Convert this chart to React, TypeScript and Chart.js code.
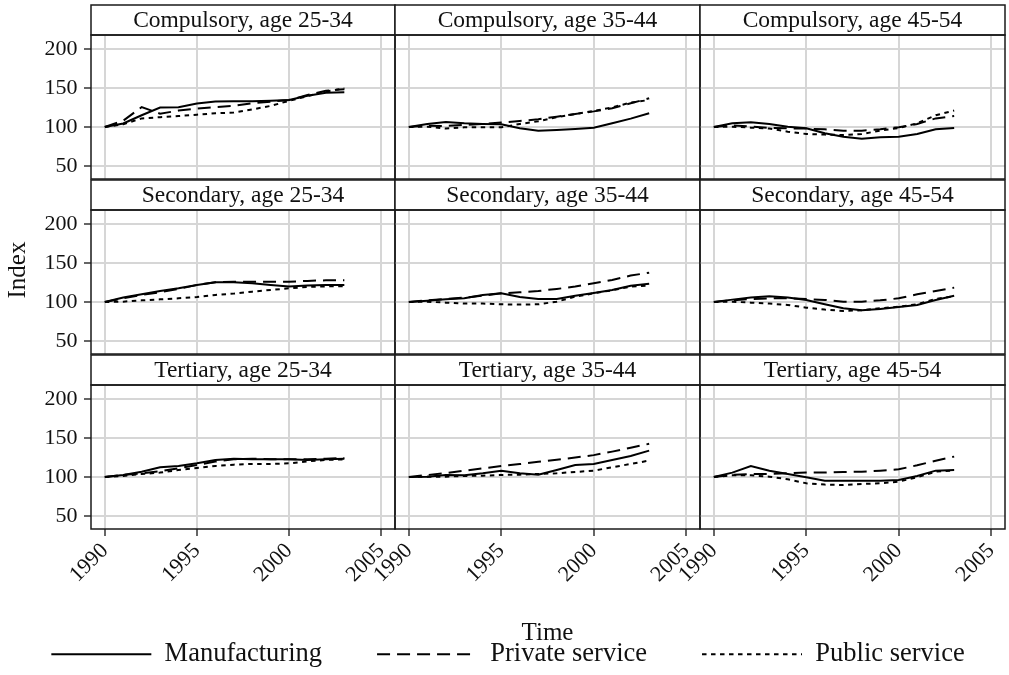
import React, { useEffect, useRef } from 'react';
import { Chart, registerables } from 'chart.js';

Chart.register(...registerables);

// ---- data -------------------------------------------------------------
const YEARS = [1990, 1991, 1992, 1993, 1994, 1995, 1996, 1997, 1998, 1999, 2000, 2001, 2002, 2003];
const SECTORS = ['Manufacturing', 'Private service', 'Public service'];
const EDUCATION_LEVELS = ['Compulsory', 'Secondary', 'Tertiary'];
const AGE_GROUPS = ['25-34', '35-44', '45-54'];
const X_TICKS = [1990, 1995, 2000, 2005];
const Y_TICKS = [50, 100, 150, 200];

// Compulsory education
const compulsory2534Manufacturing = [100, 104.5, 115, 125, 125.2, 130, 132.5, 133, 133, 133.5, 134.5, 140, 144, 144.5];
const compulsory2534Private = [100, 108, 125.5, 117, 121, 123.5, 125.5, 127, 130.5, 132.5, 134.5, 141, 146.5, 148.5];
const compulsory2534Public = [100, 103.5, 111, 112.5, 114, 115.8, 117.5, 118.5, 122.5, 127, 133.5, 139.5, 145.5, 149.5];

const compulsory3544Manufacturing = [100, 103.8, 106.4, 104.7, 103.8, 103.4, 98.3, 95.3, 96.2, 97.4, 99.1, 104.7, 110.7, 117.5];
const compulsory3544Private = [100, 101.7, 101.3, 102.6, 103.8, 105.6, 107.7, 109.8, 113.2, 116.7, 120, 124, 130.3, 136.8];
const compulsory3544Public = [100, 100.4, 97.9, 99.6, 99.6, 99.6, 103.8, 107.3, 112.4, 116.7, 120.5, 125.2, 131.2, 134.6];

const compulsory4554Manufacturing = [100, 104.7, 106, 103.8, 100.4, 98.3, 91.9, 87.6, 85, 86.8, 87.6, 91, 97, 98.7];
const compulsory4554Private = [100, 102.1, 100.4, 98.7, 98.3, 97.9, 97, 95.3, 95.3, 97, 99.6, 103.8, 111, 114.1];
const compulsory4554Public = [100, 100.4, 99.1, 97.9, 94, 91, 90.2, 89.7, 91, 95.3, 98.7, 104.7, 115, 121];

// Secondary education
const secondary2534Manufacturing = [100, 105.6, 109.8, 114.1, 117.5, 121.8, 125.2, 125.2, 124, 121.8, 119.7, 121, 121.8, 121.8];
const secondary2534Private = [100, 104.7, 109, 112.4, 116.7, 121.8, 125.2, 126, 126, 126, 126, 127, 127.8, 127.8];
const secondary2534Public = [100, 100.4, 102.1, 103.4, 104.7, 106.4, 109, 110.7, 113.2, 115.4, 117.5, 119.2, 120, 120];

const secondary3544Manufacturing = [100, 101.7, 103.4, 104.7, 109, 111.1, 106.4, 103.8, 103.8, 108.1, 111.5, 115.4, 120.9, 123.5];
const secondary3544Private = [100, 102.1, 103.8, 105.6, 108.1, 111.1, 112.4, 114.1, 116.7, 119.7, 123.9, 128.2, 133.8, 137.6];
const secondary3544Public = [100, 100.4, 99.1, 97.9, 97.9, 97, 96.6, 97, 100.4, 106.8, 111.1, 115, 119.7, 121];

const secondary4554Manufacturing = [100, 103, 105.6, 107.3, 105.6, 102.6, 97, 91.9, 89.3, 91, 93.6, 96.2, 102.6, 108.1];
const secondary4554Private = [100, 102.1, 103.8, 104.7, 104.7, 103.8, 102.6, 100.4, 100.4, 102.1, 104.7, 109.8, 114.1, 118.4];
const secondary4554Public = [100, 100.4, 99.1, 97.9, 96.2, 92.7, 90.2, 88.5, 89.3, 91.9, 94, 97, 103.8, 107.3];

// Tertiary education
const tertiary2534Manufacturing = [100, 102.6, 106.8, 112.4, 114.1, 117.5, 121.8, 123.5, 122.6, 122.6, 122.6, 121.8, 122.6, 123.5];
const tertiary2534Private = [100, 102.6, 104.7, 107.3, 111.1, 115.4, 119.7, 122.6, 123.5, 122.6, 122.6, 122.6, 123.5, 124.4];
const tertiary2534Public = [100, 101.3, 103.8, 105.6, 109, 111.5, 114.1, 115.8, 116.7, 116.7, 117.5, 120, 121.8, 122.6];

const tertiary3544Manufacturing = [100, 100.4, 102.6, 102.1, 104.7, 108.1, 104.7, 103, 109, 115.4, 116.7, 121.8, 126.9, 133.8];
const tertiary3544Private = [100, 102.5, 105, 108, 111, 114, 116.5, 119.5, 122, 125, 128, 132.5, 137.5, 142.5];
const tertiary3544Public = [100, 100.4, 100.4, 101.3, 101.7, 102.6, 103, 103.8, 104.7, 106.4, 108.1, 112.4, 116.7, 121];

const tertiary4554Manufacturing = [100, 105.6, 114.1, 108.1, 103.8, 99.6, 95.3, 95.3, 95.3, 95.3, 96.2, 101.3, 108.1, 109];
const tertiary4554Private = [100, 102.6, 103.8, 103.8, 104.7, 105.6, 105.6, 106.4, 106.8, 108.1, 109.8, 115, 120.9, 126.1];
const tertiary4554Public = [100, 102.1, 102.1, 100.4, 97, 91.9, 90.2, 89.7, 91, 91.9, 94, 99.6, 106.8, 108.1];

// rows = education level, columns = age group, each cell = [manufacturing, private, public]
const PANEL_SERIES = [
  [
    [compulsory2534Manufacturing, compulsory2534Private, compulsory2534Public],
    [compulsory3544Manufacturing, compulsory3544Private, compulsory3544Public],
    [compulsory4554Manufacturing, compulsory4554Private, compulsory4554Public],
  ],
  [
    [secondary2534Manufacturing, secondary2534Private, secondary2534Public],
    [secondary3544Manufacturing, secondary3544Private, secondary3544Public],
    [secondary4554Manufacturing, secondary4554Private, secondary4554Public],
  ],
  [
    [tertiary2534Manufacturing, tertiary2534Private, tertiary2534Public],
    [tertiary3544Manufacturing, tertiary3544Private, tertiary3544Public],
    [tertiary4554Manufacturing, tertiary4554Private, tertiary4554Public],
  ],
];

// ---- layout & style ---------------------------------------------------
const FONT = '"Liberation Serif", "Times New Roman", Times, serif';
const INK = '#111111';
const GRID = '#d6d6d6';
const FRAME = '#1a1a1a';
const LINE_DASHES = [[], [13, 7], [4.5, 4.5]];

const X_MIN = 1989.25;
const X_MAX = 2005.75;
const Y_MIN = 33.3;
const Y_MAX = 217.9;

const COL_EDGES = [91, 395, 700, 1005];
const ROW_TOPS = [35, 210, 385];
const PANEL_H = 144;
const STRIP_H = 30;

type Geometry = {
  left: number; top: number; w: number; h: number;
  padL: number; padR: number; padT: number; padB: number;
  xAxisH: number; yAxisW: number;
};

function panelGeometry(row: number, col: number): Geometry {
  const plotL = COL_EDGES[col];
  const plotR = COL_EDGES[col + 1];
  const plotT = ROW_TOPS[row];
  const plotB = plotT + PANEL_H;
  const isLeft = col === 0;
  const isBottom = row === 2;
  const padL = isLeft ? 0 : isBottom ? 48 : 4;
  const left = isLeft ? 0 : plotL - padL;
  const padR = isBottom ? 24 : 4;
  const padT = STRIP_H + 2;
  const top = plotT - padT;
  const xAxisH = isBottom ? (col === 1 ? 124 : 80) : 0;
  const padB = isBottom ? 2 : 24;
  const bottom = plotB + xAxisH + padB;
  return {
    left, top, w: plotR + padR - left, h: bottom - top,
    padL, padR, padT, padB, xAxisH, yAxisW: isLeft ? plotL : 0,
  };
}

// strip header, panel frame and the shared y title
const panelFrame = {
  id: 'panelFrame',
  afterDraw(chart: any, _args: any, opts: any) {
    const { ctx, chartArea: a } = chart;
    const w = a.right - a.left;
    ctx.save();
    ctx.fillStyle = '#ffffff';
    ctx.fillRect(a.left, a.top - STRIP_H, w, STRIP_H);
    ctx.strokeStyle = FRAME;
    ctx.lineWidth = 1.5;
    ctx.strokeRect(a.left, a.top - STRIP_H, w, STRIP_H);
    ctx.strokeRect(a.left, a.top, w, a.bottom - a.top);
    ctx.fillStyle = INK;
    ctx.font = `23.5px ${FONT}`;
    ctx.textAlign = 'center';
    ctx.textBaseline = 'middle';
    ctx.fillText(opts.strip, a.left + w / 2, a.top - STRIP_H / 2 + 1);
    if (opts.sideTitle) {
      const t = opts.sideTitle;
      ctx.translate(t.x, t.y);
      ctx.rotate(-Math.PI / 2);
      ctx.font = `25px ${FONT}`;
      ctx.fillText(t.text, 0, 0);
    }
    ctx.restore();
  },
};

function panelConfig(row: number, col: number, g: Geometry): any {
  const isLeft = col === 0;
  const isBottom = row === 2;
  const series = PANEL_SERIES[row][col];
  const strip = `${EDUCATION_LEVELS[row]}, age ${AGE_GROUPS[col]}`;
  const sideTitle = isLeft && row === 1
    ? { text: 'Index', x: 18 - g.left, y: 270 - g.top }
    : null;

  return {
    type: 'line',
    data: {
      datasets: SECTORS.map((name, k) => ({
        label: name,
        data: YEARS.map((yr, j) => ({ x: yr, y: series[k][j] })),
        borderColor: '#000000',
        borderWidth: 2,
        borderDash: LINE_DASHES[k],
        pointRadius: 0,
        tension: 0,
        fill: false,
      })),
    },
    options: {
      responsive: false,
      animation: false,
      events: [],
      layout: { padding: { left: g.padL, right: g.padR, top: g.padT, bottom: g.padB } },
      plugins: {
        legend: { display: false },
        tooltip: { enabled: false },
        panelFrame: { strip, sideTitle },
      },
      scales: {
        x: {
          type: 'linear',
          position: 'bottom',
          min: X_MIN,
          max: X_MAX,
          afterBuildTicks: (s: any) => { s.ticks = X_TICKS.map((v) => ({ value: v })); },
          afterFit: (s: any) => { s.height = g.xAxisH; },
          border: { display: false },
          grid: {
            color: GRID,
            lineWidth: 2,
            drawTicks: isBottom,
            tickLength: 7,
            tickColor: '#333333',
            tickWidth: 1.5,
          },
          ticks: {
            display: isBottom,
            autoSkip: false,
            minRotation: 45,
            maxRotation: 45,
            padding: 2,
            color: INK,
            font: { family: FONT, size: 22 },
            callback: (v: any) => String(v),
          },
          title: {
            display: isBottom && col === 1,
            text: 'Time',
            color: INK,
            font: { family: FONT, size: 25 },
            padding: { top: 0, bottom: 5 },
          },
        },
        y: {
          type: 'linear',
          position: 'left',
          min: Y_MIN,
          max: Y_MAX,
          afterBuildTicks: (s: any) => { s.ticks = Y_TICKS.map((v) => ({ value: v })); },
          afterFit: (s: any) => { s.width = g.yAxisW; },
          border: { display: false },
          grid: {
            color: GRID,
            lineWidth: 2,
            drawTicks: isLeft,
            tickLength: 7,
            tickColor: '#333333',
            tickWidth: 1.5,
          },
          ticks: {
            display: isLeft,
            padding: 6.5,
            color: INK,
            font: { family: FONT, size: 22 },
            callback: (v: any) => String(v),
          },
        },
      },
    },
    plugins: [panelFrame],
  };
}

// legend strip beneath the grid (wide canvas, centred on the panel grid)
const LEGEND_BOX = { left: -192, top: 586, w: 1400, h: 300 };

function legendConfig(): any {
  const baseLabels = (Chart.defaults as any).plugins.legend.labels.generateLabels;
  return {
    type: 'line',
    data: {
      datasets: SECTORS.map((name, k) => ({
        label: name,
        data: [],
        borderColor: '#000000',
        backgroundColor: '#000000',
        borderWidth: 2,
        borderDash: LINE_DASHES[k],
      })),
    },
    options: {
      responsive: false,
      animation: false,
      events: [],
      scales: { x: { display: false }, y: { display: false } },
      plugins: {
        tooltip: { enabled: false },
        legend: {
          display: true,
          position: 'top',
          labels: {
            usePointStyle: true,
            pointStyle: 'line',
            pointStyleWidth: 100,
            padding: 55,
            color: INK,
            font: { family: FONT, size: 26.5 },
            generateLabels: (chart: any) =>
              baseLabels(chart).map((item: any) => ({
                ...item,
                lineDash: LINE_DASHES[item.datasetIndex],
                lineWidth: 2,
                strokeStyle: '#000000',
              })),
          },
        },
      },
    },
  };
}

export default function App() {
  const canvasRefs = useRef<(HTMLCanvasElement | null)[]>([]);
  const legendRef = useRef<HTMLCanvasElement | null>(null);

  const cells: { row: number; col: number; g: Geometry }[] = [];
  for (let r = 0; r < 3; r++) {
    for (let c = 0; c < 3; c++) cells.push({ row: r, col: c, g: panelGeometry(r, c) });
  }

  useEffect(() => {
    const charts: Chart[] = [];
    cells.forEach((cell, i) => {
      const cv = canvasRefs.current[i];
      if (cv) charts.push(new Chart(cv, panelConfig(cell.row, cell.col, cell.g)));
    });
    if (legendRef.current) charts.push(new Chart(legendRef.current, legendConfig()));
    return () => charts.forEach((ch) => ch.destroy());
  }, []);

  return (
    <div
      style={{
        position: 'absolute', left: 0, top: 0, width: 1009, height: 675,
        overflow: 'hidden', background: '#ffffff',
      }}
    >
      {cells.map((cell, i) => (
        <canvas
          key={i}
          ref={(el) => { canvasRefs.current[i] = el; }}
          width={cell.g.w}
          height={cell.g.h}
          style={{
            position: 'absolute', left: cell.g.left, top: cell.g.top,
            width: cell.g.w, height: cell.g.h,
          }}
        />
      ))}
      <canvas
        ref={legendRef}
        width={LEGEND_BOX.w}
        height={LEGEND_BOX.h}
        style={{
          position: 'absolute', left: LEGEND_BOX.left, top: LEGEND_BOX.top,
          width: LEGEND_BOX.w, height: LEGEND_BOX.h,
        }}
      />
    </div>
  );
}
